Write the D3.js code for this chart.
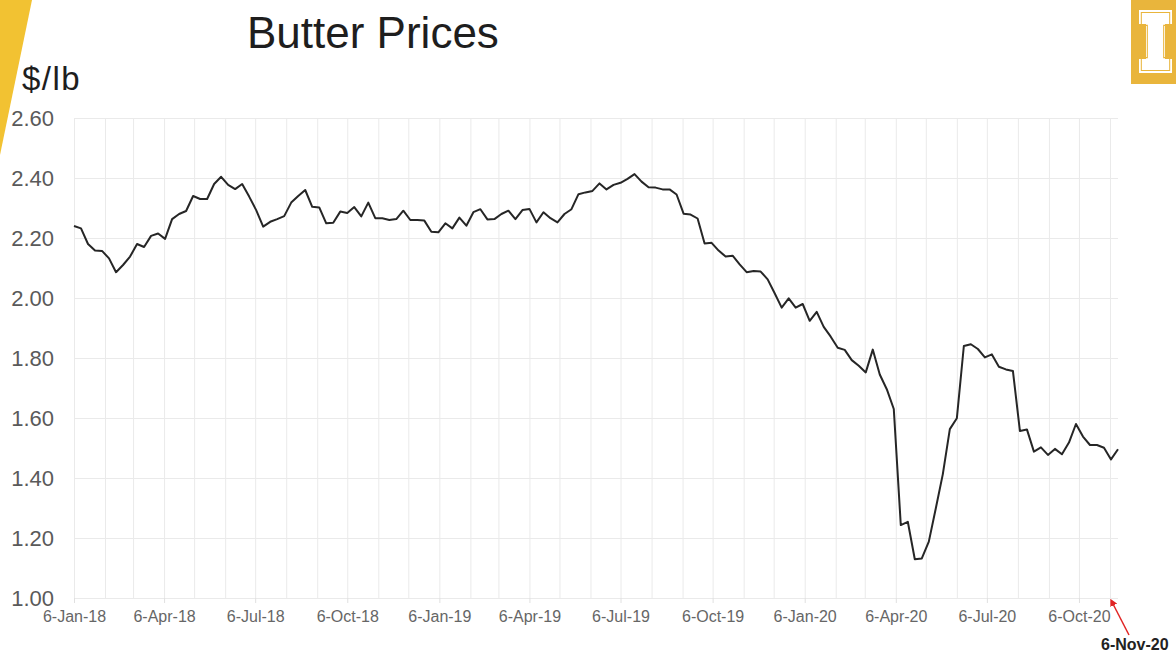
<!DOCTYPE html>
<html>
<head>
<meta charset="utf-8">
<script src="https://cdn.jsdelivr.net/npm/d3@7.9.0/dist/d3.min.js"></script>
<style>
  body { margin: 0; background: #fff; }
  svg { display: block; font-family: "Liberation Sans", Arial, sans-serif; }
  .grid line { stroke: #eaeaea; }
  .grid .domain { display: none; }
</style>
</head>
<body>
<svg id="chart" width="1176" height="656"></svg>
<script>
// Weekly butter price, $/lb, first week 6-Jan-18
const startDate = new Date(Date.UTC(2018, 0, 6));
const prices = [
  2.24, 2.232, 2.18, 2.158, 2.157, 2.132, 2.086, 2.11, 2.138, 2.18,
  2.17, 2.207, 2.215, 2.197, 2.263, 2.28, 2.29, 2.34, 2.33, 2.33,
  2.38, 2.404, 2.377, 2.363, 2.38, 2.338, 2.293, 2.238, 2.254, 2.263,
  2.273, 2.318, 2.34, 2.36, 2.304, 2.302, 2.249, 2.251, 2.288, 2.283,
  2.303, 2.272, 2.318, 2.266, 2.266, 2.26, 2.263, 2.291, 2.26, 2.26,
  2.258, 2.221, 2.219, 2.249, 2.232, 2.268, 2.241, 2.286, 2.296, 2.262,
  2.263, 2.28, 2.291, 2.263, 2.293, 2.297, 2.252, 2.286, 2.266, 2.252,
  2.28, 2.296, 2.346, 2.352, 2.357, 2.382, 2.362, 2.377, 2.384, 2.397,
  2.413, 2.388, 2.369, 2.368, 2.362, 2.362, 2.345, 2.281, 2.278, 2.265,
  2.182, 2.184, 2.158, 2.138, 2.141, 2.112, 2.086, 2.09, 2.088, 2.062,
  2.016, 1.968, 1.999, 1.968, 1.98, 1.924, 1.954, 1.904, 1.871, 1.834,
  1.827, 1.793, 1.774, 1.752, 1.828, 1.745, 1.696, 1.63, 1.243, 1.254,
  1.129, 1.132, 1.188, 1.299, 1.413, 1.563, 1.599, 1.84, 1.846, 1.83,
  1.802, 1.812, 1.771, 1.762, 1.757, 1.557, 1.562, 1.488, 1.502, 1.477,
  1.497, 1.479, 1.518, 1.58, 1.538, 1.51, 1.51, 1.501, 1.462, 1.496
];
const yTicks = [1.0, 1.2, 1.4, 1.6, 1.8, 2.0, 2.2, 2.4, 2.6];
const title = "Butter Prices";
const unitLabel = "$/lb";
const markDate = new Date(Date.UTC(2020, 10, 6));

const data = prices.map((v, i) => ({ date: d3.utcDay.offset(startDate, i * 7), value: v }));

const svg = d3.select('#chart');
const m = { left: 74, right: 1118, top: 118, bottom: 598 };

const x = d3.scaleUtc()
  .domain([startDate, data[data.length - 1].date])
  .range([m.left, m.right]);
const y = d3.scaleLinear().domain([1, 2.6]).range([m.bottom, m.top]);

// yellow stripe, top left
svg.append('path')
  .attr('d', 'M0,0 L32,0 L0,155 Z')
  .attr('fill', '#f2c232');

// logo block, top right
svg.append('rect')
  .attr('x', 1131).attr('y', 0).attr('width', 45).attr('height', 84)
  .attr('fill', '#e9b53c');
const iShape = 'M1139,10 H1172 V24 H1165 V59 H1172 V73 H1139 V59 H1146 V24 H1139 Z';
svg.append('path').attr('d', iShape).attr('fill', '#fff');
svg.append('path').attr('d', iShape)
  .attr('fill', 'none').attr('stroke', '#e9b53c').attr('stroke-width', 1.2)
  .attr('transform', 'translate(1155.5,41.5) scale(0.86,0.92) translate(-1155.5,-41.5)');

// titles
svg.append('text')
  .attr('x', 247).attr('y', 48)
  .attr('font-size', 44).attr('fill', '#1e1e1e')
  .text(title);
svg.append('text')
  .attr('x', 22).attr('y', 90)
  .attr('font-size', 33).attr('fill', '#1e1e1e')
  .attr('letter-spacing', 1.5)
  .text(unitLabel);

// monthly vertical gridlines on the 6th
const months = d3.utcMonth.range(new Date(Date.UTC(2018, 0, 1)), new Date(Date.UTC(2020, 11, 1)))
  .map(d => d3.utcDay.offset(d, 5));
svg.append('g')
  .attr('class', 'grid')
  .attr('transform', `translate(0,${m.bottom})`)
  .call(d3.axisBottom(x).tickValues(months).tickSize(-(m.bottom - m.top)).tickFormat(''));

// horizontal gridlines
svg.append('g')
  .attr('class', 'grid')
  .attr('transform', `translate(${m.left},0)`)
  .call(d3.axisLeft(y).tickValues(yTicks).tickSize(-(m.right - m.left)).tickFormat(''));

// y labels
const yAxis = svg.append('g')
  .attr('transform', `translate(${m.left},0)`)
  .call(d3.axisLeft(y).tickValues(yTicks).tickSize(0).tickPadding(20).tickFormat(d3.format('.2f')));
yAxis.select('.domain').remove();
yAxis.selectAll('text')
  .attr('font-size', 22).attr('fill', '#5a5a5a')
  .attr('font-family', '"Liberation Sans", Arial, sans-serif');

// x labels, quarterly
const quarters = months.filter(d => d.getUTCMonth() % 3 === 0);
const xAxis = svg.append('g')
  .attr('transform', `translate(0,${m.bottom})`)
  .call(d3.axisBottom(x).tickValues(quarters).tickSize(5).tickPadding(8).tickFormat(d3.utcFormat('%-d-%b-%y')));
xAxis.select('.domain').remove();
xAxis.selectAll('line').attr('stroke', '#e0e0e0');
xAxis.selectAll('text')
  .attr('font-size', 16).attr('fill', '#666')
  .attr('font-family', '"Liberation Sans", Arial, sans-serif');

// price line
const line = d3.line().x(d => x(d.date)).y(d => y(d.value));
svg.append('path')
  .datum(data)
  .attr('d', line)
  .attr('fill', 'none')
  .attr('stroke', '#262626')
  .attr('stroke-width', 2)
  .attr('stroke-linejoin', 'round');

// 6-Nov-20 marker
const mx = x(markDate);
svg.append('defs').append('marker')
  .attr('id', 'arrow').attr('viewBox', '0 0 10 10')
  .attr('refX', 5).attr('refY', 5)
  .attr('markerWidth', 5).attr('markerHeight', 5)
  .attr('orient', 'auto-start-reverse')
  .append('path').attr('d', 'M0,0 L10,5 L0,10 Z').attr('fill', '#e02424');
svg.append('line')
  .attr('x1', mx + 19).attr('y1', m.bottom + 37)
  .attr('x2', mx + 2).attr('y2', m.bottom + 4)
  .attr('stroke', '#e02424').attr('stroke-width', 1.5)
  .attr('marker-end', 'url(#arrow)');
svg.append('text')
  .attr('x', 1101).attr('y', 650)
  .attr('font-size', 16).attr('font-weight', 'bold').attr('fill', '#222')
  .text(d3.utcFormat('%-d-%b-%y')(markDate));
</script>
</body>
</html>
